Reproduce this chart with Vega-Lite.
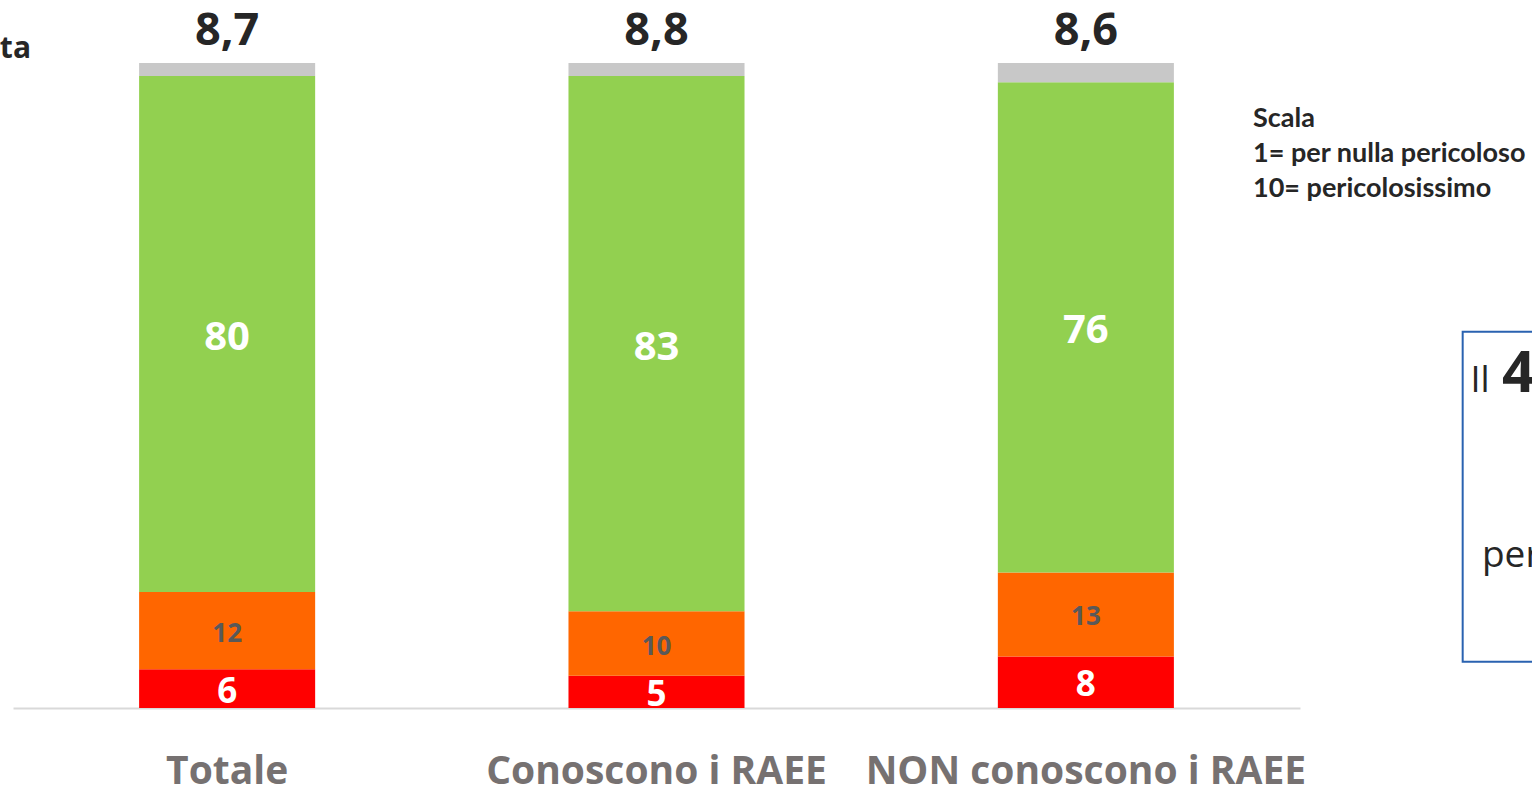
{
  "$schema": "https://vega.github.io/schema/vega-lite/v6.json",
  "width": 1287,
  "height": 708,
  "autosize": {"type": "none"},
  "padding": {"left": 13, "top": 0, "right": 232, "bottom": 80},
  "background": "white",
  "config": {
    "view": {"stroke": null},
    "font": "Open Sans",
    "locale": {"number": {"decimal": ",", "thousands": ".", "grouping": [3], "currency": ["", " €"]}}
  },
  "datasets": {
    "segments": [
      {"gruppo": "Totale", "classe": "voti 1-5", "quota": 6, "ordine": 1},
      {"gruppo": "Totale", "classe": "voti 6-7", "quota": 12, "ordine": 2},
      {"gruppo": "Totale", "classe": "voti 8-10", "quota": 80, "ordine": 3},
      {"gruppo": "Totale", "classe": "non sa", "quota": 2, "ordine": 4},
      {"gruppo": "Conoscono i RAEE", "classe": "voti 1-5", "quota": 5, "ordine": 1},
      {"gruppo": "Conoscono i RAEE", "classe": "voti 6-7", "quota": 10, "ordine": 2},
      {"gruppo": "Conoscono i RAEE", "classe": "voti 8-10", "quota": 83, "ordine": 3},
      {"gruppo": "Conoscono i RAEE", "classe": "non sa", "quota": 2, "ordine": 4},
      {"gruppo": "NON conoscono i  RAEE", "classe": "voti 1-5", "quota": 8, "ordine": 1},
      {"gruppo": "NON conoscono i  RAEE", "classe": "voti 6-7", "quota": 13, "ordine": 2},
      {"gruppo": "NON conoscono i  RAEE", "classe": "voti 8-10", "quota": 76, "ordine": 3},
      {"gruppo": "NON conoscono i  RAEE", "classe": "non sa", "quota": 3, "ordine": 4}
    ],
    "means": [
      {"gruppo": "Totale", "media": 8.7},
      {"gruppo": "Conoscono i RAEE", "media": 8.8},
      {"gruppo": "NON conoscono i  RAEE", "media": 8.6}
    ]
  },
  "resolve": {"scale": {"x": "independent"}},
  "layer": [
    {
      "layer": [
        {
          "data": {"name": "segments"},
          "transform": [
            {"stack": "quota", "groupby": ["gruppo"], "sort": [{"field": "ordine", "order": "ascending"}], "as": ["v0", "v1"]},
            {"calculate": "(datum.v0 + datum.v1) / 2", "as": "vmid"}
          ],
          "encoding": {
            "x": {
              "field": "gruppo",
              "type": "nominal",
              "sort": ["Totale", "Conoscono i RAEE", "NON conoscono i  RAEE"],
              "scale": {"domain": ["Totale", "Conoscono i RAEE", "NON conoscono i  RAEE"], "paddingInner": 0.59, "paddingOuter": 0.2937},
              "axis": {
                "title": null,
                "orient": "bottom",
                "domain": true,
                "domainColor": "#d9d9d9",
                "domainWidth": 2,
                "ticks": false,
                "grid": false,
                "labelAngle": 0,
                "labelFont": "Open Sans",
                "labelFontSize": 39,
                "labelFontWeight": "bold",
                "labelColor": "#767171",
                "labelBaseline": "alphabetic",
                "labelPadding": 75,
                "labelLimit": 0,
                "labelOverlap": false,
                "labelBound": false,
                "labelFlush": false
              }
            }
          },
          "layer": [
            {
              "mark": {"type": "bar"},
              "encoding": {
                "y": {"field": "v0", "type": "quantitative", "scale": {"domain": [0, 109.77], "nice": false, "zero": true}, "axis": null},
                "y2": {"field": "v1"},
                "color": {
                  "field": "classe",
                  "type": "nominal",
                  "scale": {"domain": ["voti 1-5", "voti 6-7", "voti 8-10", "non sa"], "range": ["#FF0000", "#FF6600", "#92D050", "#C8C8C8"]},
                  "legend": null
                }
              }
            },
            {
              "transform": [{"filter": "datum.classe === 'voti 8-10'"}],
              "mark": {"type": "text", "font": "Open Sans", "fontSize": 40, "fontWeight": "bold", "color": "white", "baseline": "middle", "align": "center", "dy": 4},
              "encoding": {
                "y": {"field": "vmid", "type": "quantitative", "scale": {"domain": [0, 109.77], "nice": false, "zero": true}, "axis": null},
                "text": {"field": "quota", "type": "quantitative"}
              }
            },
            {
              "transform": [{"filter": "datum.classe === 'voti 6-7'"}],
              "mark": {"type": "text", "font": "Open Sans", "fontSize": 26, "fontWeight": "bold", "color": "#595959", "baseline": "middle", "align": "center", "dy": 3},
              "encoding": {
                "y": {"field": "vmid", "type": "quantitative", "scale": {"domain": [0, 109.77], "nice": false, "zero": true}, "axis": null},
                "text": {"field": "quota", "type": "quantitative"}
              }
            },
            {
              "transform": [{"filter": "datum.classe === 'voti 1-5'"}],
              "mark": {"type": "text", "font": "Open Sans", "fontSize": 35, "fontWeight": "bold", "color": "white", "baseline": "middle", "align": "center", "dy": 3},
              "encoding": {
                "y": {"field": "vmid", "type": "quantitative", "scale": {"domain": [0, 109.77], "nice": false, "zero": true}, "axis": null},
                "text": {"field": "quota", "type": "quantitative"}
              }
            }
          ]
        },
        {
          "data": {"name": "means"},
          "mark": {"type": "text", "font": "Open Sans", "fontSize": 45, "fontWeight": "bold", "color": "#262626", "baseline": "alphabetic", "align": "center"},
          "encoding": {
            "x": {"field": "gruppo", "type": "nominal", "sort": ["Totale", "Conoscono i RAEE", "NON conoscono i  RAEE"]},
            "y": {"datum": 102.79, "type": "quantitative", "scale": {"domain": [0, 109.77], "nice": false, "zero": true}, "axis": null},
            "text": {"field": "media", "type": "quantitative", "format": ".1f"}
          }
        }
      ]
    },
    {
      "data": {"values": [{}]},
      "layer": [
        {
          "mark": {"type": "text", "text": "ta", "font": "Open Sans", "fontSize": 30, "fontWeight": "bold", "color": "#262626", "align": "right", "baseline": "alphabetic"},
          "encoding": {
            "x": {"datum": 1.4, "type": "quantitative", "scale": {"domain": [0, 100], "nice": false, "zero": false}, "axis": null},
            "y": {"datum": 100.78, "type": "quantitative", "scale": {"domain": [0, 109.77], "nice": false, "zero": true}, "axis": null}
          }
        },
        {
          "mark": {"type": "text", "text": ["Scala", "1= per nulla pericoloso", "10= pericolosissimo"], "font": "Lato", "fontSize": 27, "fontWeight": "bold", "color": "#262626", "align": "left", "baseline": "alphabetic", "lineHeight": 35},
          "encoding": {
            "x": {"datum": 96.35, "type": "quantitative", "scale": {"domain": [0, 100], "nice": false, "zero": false}, "axis": null},
            "y": {"datum": 90.08, "type": "quantitative", "scale": {"domain": [0, 109.77], "nice": false, "zero": true}, "axis": null}
          }
        },
        {
          "mark": {"type": "rect", "fill": "transparent", "stroke": "#2a62b0", "strokeWidth": 2},
          "encoding": {
            "x": {"datum": 112.64, "type": "quantitative", "scale": {"domain": [0, 100], "nice": false, "zero": false}, "axis": null},
            "x2": {"datum": 120},
            "y": {"datum": 58.34, "type": "quantitative", "scale": {"domain": [0, 109.77], "nice": false, "zero": true}, "axis": null},
            "y2": {"datum": 7.18}
          }
        },
        {
          "mark": {"type": "text", "text": "Il", "font": "Open Sans", "fontSize": 36, "color": "#262626", "align": "left", "baseline": "alphabetic"},
          "encoding": {
            "x": {"datum": 113.25, "type": "quantitative", "scale": {"domain": [0, 100], "nice": false, "zero": false}, "axis": null},
            "y": {"datum": 48.99, "type": "quantitative", "scale": {"domain": [0, 109.77], "nice": false, "zero": true}, "axis": null}
          }
        },
        {
          "mark": {"type": "text", "text": "4", "font": "Open Sans", "fontSize": 58, "fontWeight": "bold", "color": "#262626", "align": "left", "baseline": "alphabetic"},
          "encoding": {
            "x": {"datum": 115.7, "type": "quantitative", "scale": {"domain": [0, 100], "nice": false, "zero": false}, "axis": null},
            "y": {"datum": 48.99, "type": "quantitative", "scale": {"domain": [0, 109.77], "nice": false, "zero": true}, "axis": null}
          }
        },
        {
          "mark": {"type": "text", "text": "per", "font": "Open Sans", "fontSize": 37, "color": "#262626", "align": "left", "baseline": "alphabetic"},
          "encoding": {
            "x": {"datum": 114.14, "type": "quantitative", "scale": {"domain": [0, 100], "nice": false, "zero": false}, "axis": null},
            "y": {"datum": 21.86, "type": "quantitative", "scale": {"domain": [0, 109.77], "nice": false, "zero": true}, "axis": null}
          }
        }
      ]
    }
  ]
}
